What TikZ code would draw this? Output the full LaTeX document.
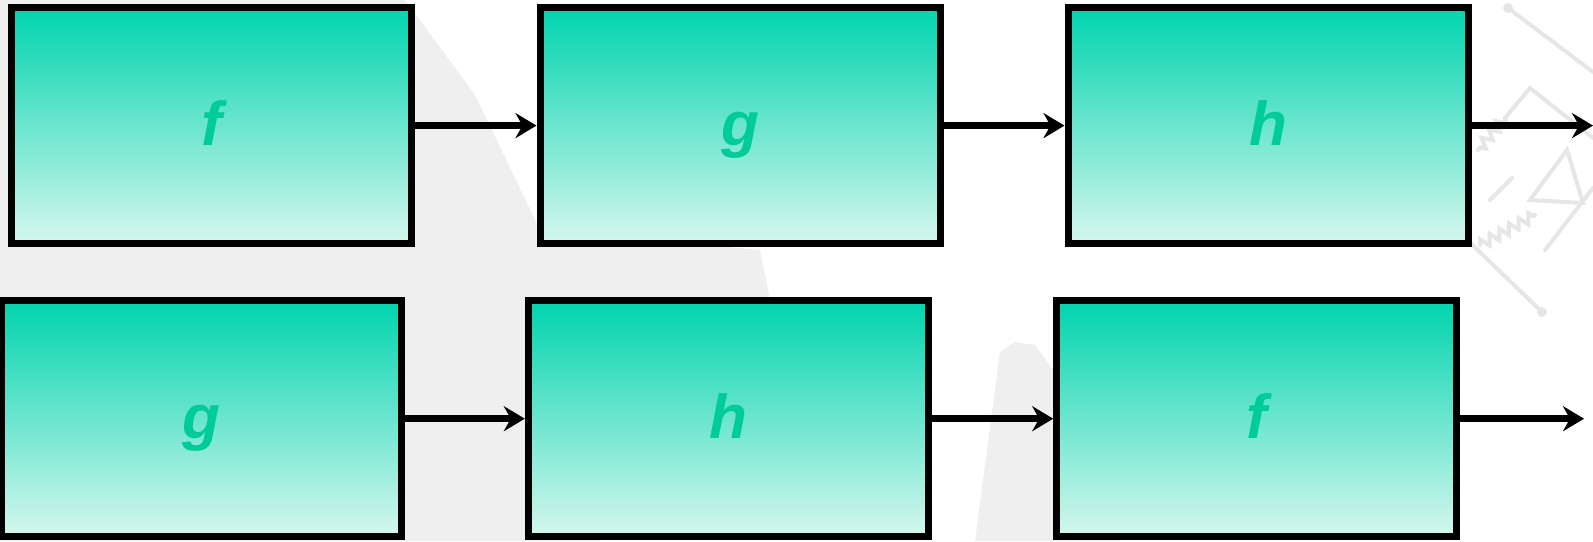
\documentclass[tikz,border=0pt]{standalone}
\usepackage{fontspec}
\setmainfont{Liberation Sans}
\usetikzlibrary{arrows.meta,decorations.pathmorphing}
\definecolor{boxtop}{RGB}{0,212,174}
\definecolor{boxbot}{RGB}{214,247,238}
\definecolor{lbl}{RGB}{0,204,153}
\definecolor{wmark}{RGB}{239,239,239}
\definecolor{wline}{RGB}{230,230,230}
\tikzset{
  fbox/.style={draw=black, line width=7pt, top color=boxtop, bottom color=boxbot,
    minimum width=400pt, minimum height=236pt, inner sep=0pt,
    text=lbl, font=\fontsize{62}{62}\selectfont\bfseries\itshape,
    text height=40pt, text depth=0pt},
  flow/.style={line width=7pt, -{Stealth[length=21pt, width=25pt, inset=7pt]}},
  wm/.style={draw=wline, line width=4pt, line cap=round},
  zz/.style={wm, decorate, decoration={zigzag, amplitude=5pt, segment length=11pt}}
}
\begin{document}
\begin{tikzpicture}[x=1pt, y=-1pt]
\useasboundingbox (0,0) rectangle (1593,541);
\fill[white] (0,0) rectangle (1593,541);
% faint background watermark
\fill[wmark] (0,0) -- (405,0) -- (475,95) -- (540,230) -- (760,250) -- (770,300)
  -- (600,541) -- (0,541) -- cycle;
\fill[wmark] (975,541) -- (1000,352) -- (1015,342) -- (1035,345) -- (1090,420)
  -- (1120,541) -- cycle;
\draw[wm] (1508,8) -- (1593,72);
\fill[wline] (1508,8) circle (5pt);
\draw[wm] (1530,88) -- (1593,138);
\draw[wm] (1530,88) -- (1505,118);
\draw[zz] (1505,118) -- (1478,150);
\draw[wm] (1460,233) -- (1542,312);
\fill[wline] (1542,312) circle (5pt);
\draw[zz] (1480,245) -- (1535,215);
\draw[wm] (1545,250) -- (1593,188);
\draw[wm] (1567,150) -- (1530,200) -- (1583,203) -- cycle;
\draw[wm] (1490,200) -- (1512,178);
% boxes
\node[fbox] (f1) at (211.5,125.6) {f};
\node[fbox] (g1) at (740,125.6) {g};
\node[fbox] (h1) at (1268,125.6) {h};
\node[fbox] (g2) at (201.2,418.7) {g};
\node[fbox] (h2) at (728.3,418.7) {h};
\node[fbox] (f2) at (1256.7,418.7) {f};
\coordinate (o1) at (1593,125.6);
\coordinate (o2) at (1584,418.7);
\draw[flow] (f1.east) -- (g1.west);
\draw[flow] (g1.east) -- (h1.west);
\draw[flow] (h1.east) -- (o1);
\draw[flow] (g2.east) -- (h2.west);
\draw[flow] (h2.east) -- (f2.west);
\draw[flow] (f2.east) -- (o2);
\end{tikzpicture}
\end{document}
